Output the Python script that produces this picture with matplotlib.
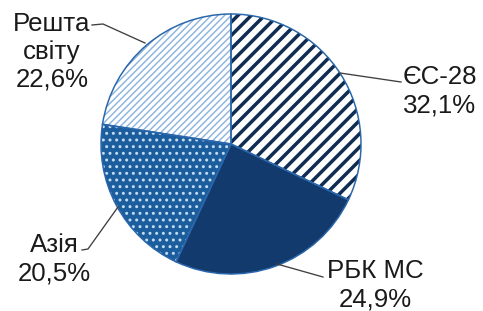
import numpy as np
import matplotlib.pyplot as plt
from matplotlib.patches import Wedge

plt.rcParams['font.family'] = ['Liberation Sans', 'DejaVu Sans']

# ---------- Data ----------
regions = ["ЄС-28", "РБК МС", "Азія", "Решта\nсвіту"]
shares = [32.1, 24.9, 20.5, 22.6]

# ---------- Style ----------
face = ["white", "#123a6c", "#1c5e9d", "white"]
hatches = ["///", None, "...", "//////"]
hatch_cols = ["#0f2c52", None, "#c2dcf2", "#8ab3de"]
hatch_lw = [2.1, 0, 1.0, 0.85]
edge = "#2a66ab"

DPI = 120
fig = plt.figure(figsize=(483 / DPI, 311 / DPI), dpi=DPI)
ax = fig.add_axes([0, 0, 1, 1])

# pie centre / radius in pixels
cx, cy, R = 231, 144, 130


def px(x, y):
    return ((x - cx) / R, (cy - y) / R)


wedges, _ = ax.pie(shares, startangle=90, counterclock=False, radius=1,
                   colors=face, wedgeprops=dict(edgecolor="none", linewidth=0))

for w, h, hc, hl in zip(wedges, hatches, hatch_cols, hatch_lw):
    if h:
        hw = Wedge(w.center, w.r, w.theta1, w.theta2, facecolor="none",
                   edgecolor=hc, linewidth=0, hatch=h, zorder=2)
        if hasattr(hw, "set_hatch_linewidth"):
            hw.set_hatch_linewidth(hl)
        ax.add_patch(hw)
    ow = Wedge(w.center, w.r, w.theta1, w.theta2, facecolor="none",
               edgecolor=edge, linewidth=0.9, zorder=3)
    ax.add_patch(ow)

# ---------- Labels ----------
# anchor = centre x, baseline of the last line (pixels)
label_pos = [(440, 112), (375, 306), (54, 280), (52, 87)]
leaders = [
    [(340, 73), (401, 82)],
    [(277, 264), (323, 277)],
    [(118, 207), (88, 249), (82, 250)],
    [(145, 43), (103, 24), (92, 25)],
]
for name, val, (lx, ly), pts in zip(regions, shares, label_pos, leaders):
    txt = f"{name}\n{val:.1f}%".replace(".", ",")
    x, y = px(lx, ly)
    ax.text(x, y, txt, ha="center", va="baseline", fontsize=15.5,
            color="#1a1a1a", linespacing=1.22)
    xs, ys = zip(*[px(a, b) for a, b in pts])
    ax.plot(xs, ys, color="#404040", lw=0.8, zorder=4)

ax.set_xlim(-cx / R, (483 - cx) / R)
ax.set_ylim(-(311 - cy) / R, cy / R)
ax.set_aspect("equal")
ax.axis("off")

fig.savefig("out.png", dpi=DPI)
